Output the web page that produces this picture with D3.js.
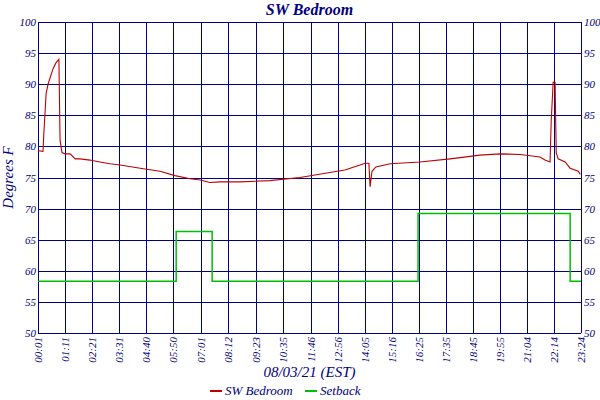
<!DOCTYPE html><html><head><meta charset="utf-8">
<script src="https://cdn.jsdelivr.net/npm/d3@7"></script>
<style>body{margin:0;background:#fff}text{font-family:"Liberation Serif",serif;font-style:italic;fill:#000080}</style>
</head><body><svg id="c" width="600" height="400"></svg><script>
const tickLabels=["00:01","01:11","02:21","03:31","04:40","05:50","07:01","08:12","09:23","10:35","11:46","12:56","14:05","15:16","16:25","17:35","18:45","19:55","21:04","22:14","23:24"];
const yTicks=[50,55,60,65,70,75,80,85,90,95,100];
const roomMin=[1,14,16,22,27,32,40,48,55,58,63,71,84,97,110,135,161,187,213,265,316,355,394,420,445,471,523,600,678,755,794,833,846,856,859,864,874,911,988,1066,1143,1195,1247,1298,1311,1324,1327,1332,1337,1340,1345,1363,1376,1397,1402];
const roomTemp=[79.3,79.2,82,88.5,90,91,92.5,93.5,94,81,79,78.8,78.8,78,78,77.8,77.5,77.2,77,76.5,76,75.3,74.8,74.6,74.2,74.3,74.3,74.5,75,75.8,76.2,77,77.3,77.3,73.5,76,76.7,77.2,77.5,78,78.6,78.8,78.7,78.3,77.8,77.5,84,90.3,90.3,79,78,77.5,76.5,76,75.5];
const setMin=[1,358,358,451,451,983,983,1376,1376,1404];
const setTemp=[58.3,58.3,66.3,66.3,58.3,58.3,69.2,69.2,58.3,58.3];
const toMin=s=>{const [h,m]=s.split(":").map(Number);return h*60+m;};
const svg=d3.select("#c");
const L=38,R=581,T=22,B=333;
const x=d3.scaleLinear().domain([1,1404]).range([L,R]);
const y=d3.scaleLinear().domain([50,100]).range([B,T]);
const tv=tickLabels.map(toMin);
const g=svg.append("g").attr("shape-rendering","crispEdges");
g.selectAll(".v").data(tv).enter().append("line").attr("x1",d=>Math.round(x(d))+0.5).attr("x2",d=>Math.round(x(d))+0.5).attr("y1",T).attr("y2",B).attr("stroke","#000080");
g.selectAll(".h").data(yTicks).enter().append("line").attr("x1",L).attr("x2",R).attr("y1",d=>Math.round(y(d))+0.5).attr("y2",d=>Math.round(y(d))+0.5).attr("stroke","#000080");
svg.append("g").selectAll("text").data(yTicks).enter().append("text").attr("x",L-2).attr("y",d=>y(d)+4).attr("text-anchor","end").attr("font-size",11).text(d=>d);
svg.append("g").selectAll("text").data(yTicks).enter().append("text").attr("x",R+3).attr("y",d=>y(d)+4).attr("font-size",11).text(d=>d);
svg.append("g").selectAll("text").data(tickLabels).enter().append("text").attr("transform",(d,i)=>`translate(${x(tv[i])+4},${B+4}) rotate(-90)`).attr("text-anchor","end").attr("font-size",11).text(d=>d);
const line=d3.line().x(d=>x(d[0])).y(d=>y(d[1]));
svg.append("path").datum(setMin.map((m,i)=>[m,setTemp[i]])).attr("d",line).attr("fill","none").attr("stroke","#00c000").attr("stroke-width",1.5);
svg.append("path").datum(roomMin.map((m,i)=>[m,roomTemp[i]])).attr("d",line).attr("fill","none").attr("stroke","#c00000").attr("stroke-width",1.1);
svg.append("text").attr("x",(L+R)/2).attr("y",15).attr("text-anchor","middle").attr("font-size",16).attr("font-weight","bold").text("SW Bedroom");
svg.append("text").attr("transform",`translate(13,${(T+B)/2}) rotate(-90)`).attr("text-anchor","middle").attr("font-size",15).text("Degrees F");
svg.append("text").attr("x",(L+R)/2).attr("y",377).attr("text-anchor","middle").attr("font-size",15).text("08/03/21 (EST)");
const lg=svg.append("g");
lg.append("line").attr("x1",210).attr("x2",222).attr("y1",391).attr("y2",391).attr("stroke","#c00000").attr("stroke-width",2);
lg.append("text").attr("x",225).attr("y",395).attr("font-size",13).text("SW Bedroom");
lg.append("line").attr("x1",305).attr("x2",317).attr("y1",391).attr("y2",391).attr("stroke","#00c000").attr("stroke-width",2);
lg.append("text").attr("x",320).attr("y",395).attr("font-size",13).text("Setback");
</script></body></html>
